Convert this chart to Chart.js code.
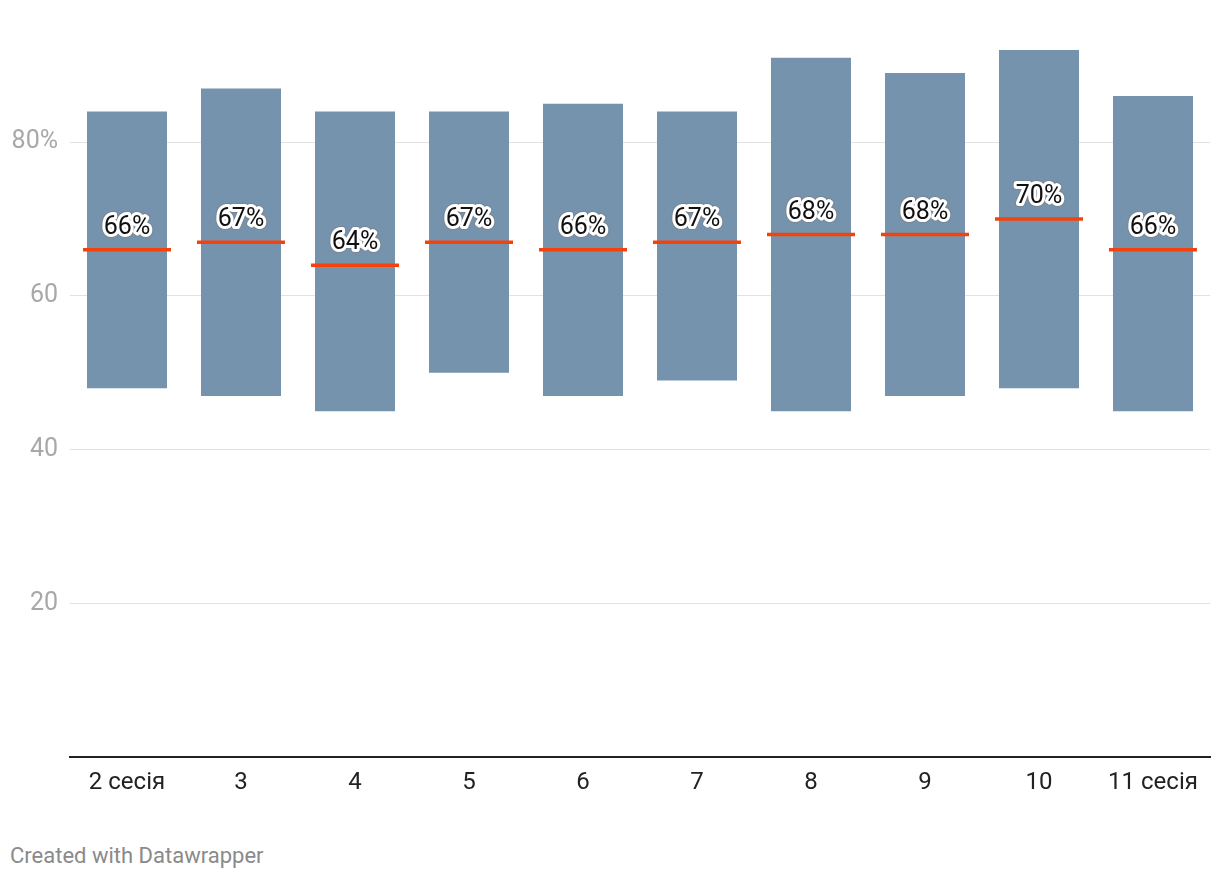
<!DOCTYPE html>
<html>
<head>
<meta charset="utf-8">
<script src="https://cdn.jsdelivr.net/npm/chart.js@4"></script>
<style>
    html, body { margin: 0; padding: 0; background: #fff; }
    body { width: 1220px; height: 878px; position: relative; font-family: Roboto, sans-serif; }
    #wrap { position: absolute; left: 0; top: 0; width: 1220px; height: 808px; }
    #credit { position: absolute; left: 10px; top: 843px; font-size: 22px; color: #8a8a8a; }
</style>
</head>
<body>
<div id="wrap"><canvas id="chart"></canvas></div>
<div id="credit">Created with Datawrapper</div>
<script>
// Sessions
const sessions = ['2 сесія', '3', '4', '5', '6', '7', '8', '9', '10', '11 сесія'];

// Min / max range per session (%)
const lowValues  = [48, 47, 45, 50, 47, 49, 45, 47, 48, 45];
const highValues = [84, 87, 84, 84, 85, 84, 91, 89, 92, 86];

// Average per session (%)
const avgValues = [66, 67, 64, 67, 66, 67, 68, 68, 70, 66];

// Y axis ticks
const yTicks = [0, 20, 40, 60, 80];
const yMax = 92;

const barColor = '#7693ae';
const avgColor = '#f5420c';

// Labels above the average line, with a white halo
const avgLabels = {
    id: 'avgLabels',
    afterDatasetsDraw(chart) {
        const ctx = chart.ctx;
        const meta = chart.getDatasetMeta(1);
        ctx.save();
        ctx.font = '25px Roboto, sans-serif';
        ctx.textAlign = 'center';
        ctx.textBaseline = 'middle';
        ctx.lineJoin = 'round';
        meta.data.forEach((pt, i) => {
            const text = avgValues[i] + '%';
            const y = pt.y - 22;
            ctx.strokeStyle = 'rgba(120,120,120,0.45)';
            ctx.lineWidth = 8;
            ctx.strokeText(text, pt.x, y);
            ctx.strokeStyle = '#fff';
            ctx.lineWidth = 6;
            ctx.strokeText(text, pt.x, y);
            ctx.fillStyle = '#111';
            ctx.fillText(text, pt.x, y);
        });
        ctx.restore();
    }
};

new Chart(document.getElementById('chart'), {
    type: 'bar',
    data: {
        labels: sessions,
        datasets: [
            {
                type: 'bar',
                data: lowValues.map((lo, i) => [lo, highValues[i]]),
                backgroundColor: barColor,
                borderWidth: 0,
                categoryPercentage: 1,
                barPercentage: 0.702,
                order: 2
            },
            {
                type: 'line',
                data: avgValues,
                showLine: false,
                pointStyle: 'line',
                pointRadius: 44,
                pointHoverRadius: 44,
                borderColor: avgColor,
                backgroundColor: avgColor,
                pointBorderWidth: 3.5,
                clip: false,
                order: 1
            }
        ]
    },
    options: {
        responsive: true,
        maintainAspectRatio: false,
        animation: false,
        layout: { autoPadding: false, padding: { top: 50, right: 10, left: 0, bottom: 0 } },
        plugins: {
            legend: { display: false },
            tooltip: { enabled: false }
        },
        scales: {
            x: {
                grid: { display: false, drawTicks: false },
                border: { display: true, color: '#222', width: 2 },
                afterFit: s => { s.paddingLeft = 0; s.paddingRight = 0; },
                ticks: {
                    color: '#222',
                    padding: 11,
                    font: { family: 'Roboto', size: 24 }
                }
            },
            y: {
                min: 0,
                max: yMax,
                afterBuildTicks: axis => { axis.ticks = yTicks.map(v => ({ value: v })); },
                afterFit: scale => { scale.width = 70; },
                border: { display: false },
                grid: {
                    drawTicks: false,
                    color: c => c.tick.value === 0 ? 'rgba(0,0,0,0)' : '#e2e2e2',
                    lineWidth: 1
                },
                ticks: {
                    color: '#a8a8a8',
                    padding: 12,
                    font: { family: 'Roboto', size: 25 },
                    callback: v => v === 0 ? '' : (v === 80 ? '80%' : String(v))
                }
            }
        }
    },
    plugins: [avgLabels]
});
</script>
</body>
</html>
